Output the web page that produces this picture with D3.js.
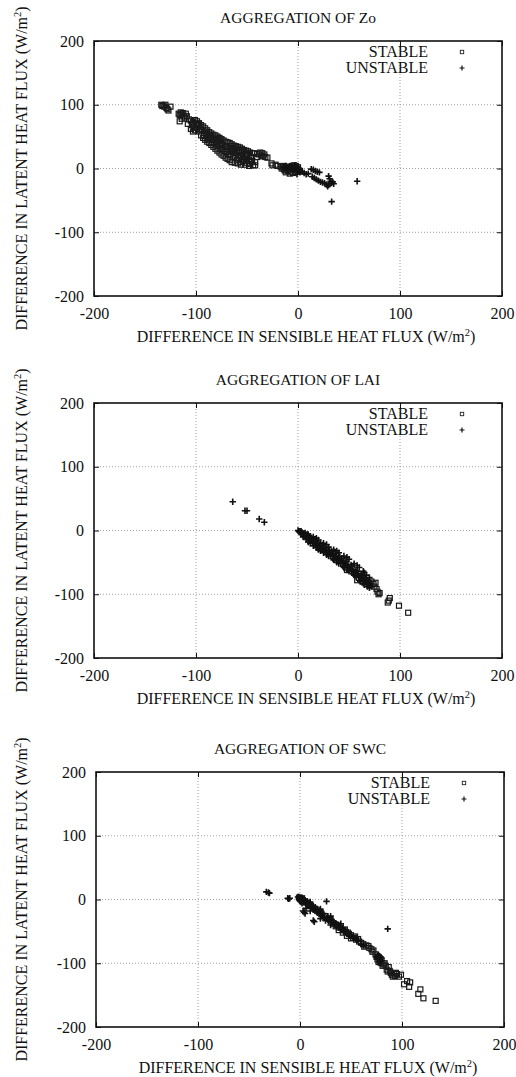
<!DOCTYPE html>
<html>
<head>
<meta charset="utf-8">
<script src="https://cdn.jsdelivr.net/npm/d3@7"></script>
<style>
body { margin: 0; background: #fff; }
text { font-family: "Liberation Serif", "Times New Roman", "DejaVu Serif", serif; fill: #111; }
</style>
</head>
<body>
<div id="chart"></div>
<script>
// values
var xTicks = [-200, -100, 0, 100, 200];
var yTicks = [-200, -100, 0, 100, 200];
var titles = ["AGGREGATION OF Zo", "AGGREGATION OF LAI", "AGGREGATION OF SWC"];
var seriesNames = ["STABLE", "UNSTABLE"];

var zoStable = [
  [-134,100],[-132,99],[-131,97],[-130,100],[-129,95],[-128,93],[-127,91],[-125,97],[-133,98],
  [-117,86],[-116,84],[-115,88],[-114,85],[-113,87],[-112,83],[-116,74],[-114,78],[-111,80],[-110,86],[-109,82],
  [-107,77],[-105,75],[-103,73],[-101,76],[-99,74],[-97,71],[-95,68],[-93,66],[-91,63],[-89,60],[-87,57],
  [-85,55],[-83,53],[-81,52],[-79,50],[-77,48],[-75,46],[-73,44],[-71,42],[-69,41],[-67,40],[-65,38],
  [-63,36],[-61,35],[-59,34],[-57,33],[-55,31],[-53,29],[-51,28],[-49,27],[-47,25],[-45,24],[-43,24],
  [-40,23],[-38,22],[-36,20],[-34,19],[-32,18],
  [-105,62],[-103,58],[-101,60],[-99,64],[-97,58],[-95,52],[-93,48],[-91,45],[-89,42],[-87,40],[-85,37],
  [-83,34],[-81,31],[-79,28],[-77,25],[-75,22],[-73,20],[-71,17],[-69,15],[-67,13],[-65,10],[-62,9],
  [-59,8],[-56,10],[-53,12],[-50,9],[-47,7],[-44,5],[-42,5],
  [-100,68],[-96,62],[-92,56],[-88,50],[-84,45],[-80,42],[-76,38],[-72,34],[-68,30],[-64,27],[-60,24],
  [-56,20],[-52,17],[-48,14],[-45,12],[-90,54],[-86,48],[-82,40],[-78,35],[-74,30],[-70,26],[-66,22],
  [-62,19],[-58,16],[-54,14],[-50,20],[-46,18],[-70,35],[-65,30],[-60,28],[-55,25],[-80,46],[-75,40],
  [-85,50],[-95,65],
  [-98,70],[-94,60],[-90,58],[-86,52],[-82,47],[-78,43],[-74,37],[-70,31],[-66,27],[-62,24],[-58,21],
  [-54,19],[-50,15],[-46,12],[-42,10],[-88,46],[-84,41],[-80,36],[-76,31],[-72,27],[-68,22],[-64,18],
  [-60,13],[-56,6],[-52,6],[-48,4],[-104,68],[-108,70],[-102,64],[-92,51],[-76,44],[-64,32],[-52,22],
  [-40,18],[-37,25],[-35,24],[-33,22],[-30,17],[-58,29],[-62,30],[-66,35],
  [-26,8],[-25,5],[-22,6],[-20,4],[-17,3],[-15,2],[-14,4],[-13,-3],[-12,1],[-11,3],[-10,-4],[-9,0],
  [-8,2],[-7,-5],[-6,-1],[-5,3],[-4,1],[-3,-2],[-2,4],[-1,0],[0,2],[1,-3],[-12,-6],[-8,-8],[-5,-7],
  [-16,0],[-3,-6],[2,-4],[-14,-1],[-10,1],[-6,4],[-2,-1],[-9,-2],[-4,5]
];
var zoUnstable = [
  [-6,2],[-4,-3],[-2,1],[-3,5],[0,-2],[2,-6],[-1,-9],[4,-5],[6,-7],[8,-9],[10,-8],[13,-1],[15,-2],
  [17,-4],[19,-5],[21,-6],[14,-13],[16,-15],[18,-17],[20,-19],[22,-21],[24,-22],[26,-23],[28,-25],
  [29,-28],[30,-26],[31,-16],[32,-20],[33,-23],[34,-21],[35,-24],[30,-12],[33,-52],[58,-20],
  [-10,-1],[-8,3],[-12,4],[-14,2]
];

var laiStable = [
  [48,-62],[55,-66],[58,-78],[60,-68],[62,-72],[64,-74],[66,-78],[68,-80],[70,-82],[72,-80],[74,-84],
  [75,-88],[76,-82],[77,-92],[78,-96],[79,-100],[80,-98],[88,-113],[89,-110],[90,-106],[99,-118],[108,-129]
];
var laiUnstable = [
  [-64,45],[-52,31],[-50,31],[-38,18],[-33,13],
  [0,0],[1,-2],[2,-1],[3,-4],[4,-3],[5,-6],[6,-5],[7,-8],[8,-7],[9,-10],[10,-12],[11,-11],[12,-14],
  [13,-16],[14,-15],[15,-18],[16,-20],[17,-19],[18,-22],[19,-24],[20,-23],[22,-26],[24,-28],[26,-30],
  [28,-32],[30,-34],[32,-36],[34,-38],[36,-40],[38,-42],[40,-45],[42,-47],[44,-50],[46,-52],[48,-55],
  [50,-58],[52,-61],[54,-64],[56,-67],[58,-70],[60,-73],[62,-76],[64,-78],[66,-81],[68,-84],[70,-86],
  [5,-10],[10,-18],[15,-24],[20,-30],[25,-35],[30,-40],[35,-46],[40,-52],[45,-58],[50,-64],[55,-70],
  [60,-78],[65,-85],[70,-90],
  [10,-6],[15,-10],[20,-15],[25,-20],[30,-26],[35,-30],[40,-35],[45,-40],[50,-45],[55,-52],[60,-58],
  [65,-66],[70,-74],
  [1,-1],[2,-3],[3,-1],[4,-6],[6,-8],[7,-4],[8,-10],[9,-6],[11,-14],[12,-9],[13,-12],[14,-20],[16,-14],
  [17,-23],[18,-17],[19,-20],[21,-25],[22,-19],[23,-30],[24,-23],[26,-26],[27,-33],[28,-27],[29,-37],
  [31,-31],[32,-40],[33,-33],[35,-38],[36,-44],[37,-36],[39,-47],[41,-41],[42,-51],[43,-44],[45,-49],
  [46,-56],[47,-48],[49,-53],[51,-61],[52,-54],[53,-57],[56,-62],[57,-73],[58,-64],[59,-67],[61,-80],
  [62,-70],[63,-73],[64,-83],[66,-74],[67,-79],[68,-88],[69,-82],[71,-84],[72,-88],[67,-70],
  [8,-14],[12,-20],[18,-27],[22,-32],[28,-38],[34,-44],[38,-50],[44,-56],[48,-62],[54,-68],[18,-12],
  [28,-22],[38,-32],[48,-42],[58,-55],[64,-64]
];

var swcStable = [
  [-1,3],[0,1],[2,2],[5,-3],[10,-9],[15,-15],[20,-20],[25,-26],[30,-32],[33,-38],[36,-40],[38,-44],
  [40,-42],[42,-48],[45,-51],[48,-54],[50,-56],[52,-60],[54,-58],[55,-63],[58,-66],[60,-68],[62,-70],
  [65,-72],[68,-76],[70,-78],[72,-80],[74,-86],[75,-90],[76,-94],[77,-98],[78,-96],[80,-100],[82,-102],
  [84,-104],[85,-110],[87,-106],[88,-112],[89,-115],[90,-118],[92,-116],[93,-120],[95,-117],[97,-121],
  [99,-118],[102,-133],[105,-128],[107,-137],[108,-130],[116,-148],[118,-141],[121,-155],[133,-159],
  [35,-42],[44,-47],[47,-52],[57,-62],[63,-74],[67,-73],[71,-82],[79,-99],[81,-104],[83,-100],[86,-113],
  [91,-121],[94,-115],[38,-48],[42,-52],[46,-57],[50,-61]
];
var swcUnstable = [
  [-33,12],[-31,11],[-30,10],[-12,2],[-11,1],[-10,2],[26,-3],[86,-46],[14,-35],[13,-33],[4,-20],
  [5,-22],[3,-18],[6,-14],
  [0,3],[1,2],[2,0],[3,-2],[4,-1],[5,-4],[6,-5],[7,-7],[8,-6],[9,-9],[10,-10],[12,-12],[14,-14],
  [16,-17],[18,-19],[20,-22],[22,-24],[24,-27],[26,-29],[28,-32],[30,-34],[32,-36],[34,-38],[36,-41],
  [38,-44],[40,-46],[43,-50],[46,-53],[50,-57],[53,-61],[56,-64],[76,-88],[77,-91],[78,-93],[79,-90],
  [80,-95],[-2,4],[-1,1],[1,-4],[2,-6],[25,-33],[28,-34],[30,-36],
  [-1,4],[0,-1],[1,0],[2,3],[3,1],[4,-4],[5,-1],[6,-8],[7,-3],[8,-10],[9,-5],[11,-8],[11,-13],[13,-10],
  [13,-16],[15,-12],[15,-18],[17,-15],[17,-21],[19,-17],[19,-23],[21,-20],[21,-26],[23,-22],[23,-29],
  [27,-27],[29,-30],[31,-32],[33,-35],[35,-37],[37,-39],[39,-42],[41,-48],[42,-45],[45,-49],[48,-56],
  [52,-59],[55,-60],[75,-90],[77,-87],[78,-89],[79,-96],[80,-92],[76,-92],[78,-98],
  [10,-4],[20,-15],[30,-26],[40,-38],[10,-18],[20,-30],[30,-40],[60,-70],[62,-72]
];

var panels = [
  {title: titles[0], stable: zoStable, unstable: zoUnstable, top: 41, left: 94},
  {title: titles[1], stable: laiStable, unstable: laiUnstable, top: 403, left: 94},
  {title: titles[2], stable: swcStable, unstable: swcUnstable, top: 772, left: 96}
];

var width = 516, height = 1077;
var pw = 408, ph = 255;
var serif = "'Liberation Serif', 'Times New Roman', 'DejaVu Serif', serif";

var svg = d3.select("#chart")
  .append("svg")
  .attr("width", width)
  .attr("height", height);

var plusPath = "M-3.2,0H3.2M0,-3.2V3.2";

panels.forEach(function (p) {
  var x = d3.scaleLinear().domain([-200, 200]).range([0, pw]);
  var y = d3.scaleLinear().domain([-200, 200]).range([ph, 0]);

  var g = svg.append("g").attr("transform", "translate(" + p.left + "," + p.top + ")");

  // grid
  g.append("g").selectAll("line")
    .data(xTicks.slice(1, -1))
    .enter().append("line")
    .attr("x1", function (d) { return x(d); })
    .attr("x2", function (d) { return x(d); })
    .attr("y1", 0).attr("y2", ph)
    .attr("stroke", "#888").attr("stroke-width", 0.8)
    .attr("stroke-dasharray", "1,2");
  g.append("g").selectAll("line")
    .data(yTicks.slice(1, -1))
    .enter().append("line")
    .attr("y1", function (d) { return y(d); })
    .attr("y2", function (d) { return y(d); })
    .attr("x1", 0).attr("x2", pw)
    .attr("stroke", "#888").attr("stroke-width", 0.8)
    .attr("stroke-dasharray", "1,2");

  // axes (ticks pointing inward)
  var fmt = function (d) { return String(d); };
  g.append("g").attr("transform", "translate(0," + ph + ")")
    .call(d3.axisBottom(x).tickValues(xTicks).tickSize(-5).tickPadding(12).tickFormat(fmt));
  g.append("g")
    .call(d3.axisLeft(y).tickValues(yTicks).tickSize(-5).tickPadding(10).tickFormat(fmt));
  g.append("g").attr("transform", "translate(" + pw + ",0)")
    .call(d3.axisRight(y).tickValues(yTicks).tickSize(-5).tickFormat(""));
  g.append("g")
    .call(d3.axisTop(x).tickValues(xTicks).tickSize(-5).tickFormat(""));
  g.selectAll(".domain").remove();
  g.selectAll("g").attr("font-family", serif).attr("font-size", 16);
  g.selectAll(".tick line").attr("stroke", "#111");
  g.selectAll(".tick text").attr("fill", "#111");

  g.append("rect")
    .attr("width", pw).attr("height", ph)
    .attr("fill", "none").attr("stroke", "#111").attr("stroke-width", 1.6);

  // points
  g.append("g").selectAll("rect")
    .data(p.stable)
    .enter().append("rect")
    .attr("x", function (d) { return x(d[0]) - 2.5; })
    .attr("y", function (d) { return y(d[1]) - 2.5; })
    .attr("width", 5).attr("height", 5)
    .attr("fill", "none").attr("stroke", "#1a1a1a").attr("stroke-width", 1.2);

  g.append("g").selectAll("path")
    .data(p.unstable)
    .enter().append("path")
    .attr("transform", function (d) { return "translate(" + x(d[0]) + "," + y(d[1]) + ")"; })
    .attr("d", plusPath)
    .attr("stroke", "#111").attr("stroke-width", 1.6);

  // legend
  var lg = g.append("g");
  lg.selectAll("text")
    .data(seriesNames)
    .enter().append("text")
    .attr("x", pw - 74)
    .attr("y", function (d, i) { return 16 + i * 16; })
    .attr("text-anchor", "end")
    .attr("font-family", serif)
    .attr("font-size", 16)
    .text(function (d) { return d; });
  lg.append("rect")
    .attr("x", pw - 41.7).attr("y", 9.3)
    .attr("width", 3.4).attr("height", 3.4)
    .attr("fill", "none").attr("stroke", "#222").attr("stroke-width", 0.9);
  lg.append("path")
    .attr("transform", "translate(" + (pw - 40) + "," + 27 + ")")
    .attr("d", "M-2.5,0H2.5M0,-2.5V2.5")
    .attr("stroke", "#111").attr("stroke-width", 1.2);

  // title
  g.append("text")
    .attr("x", pw / 2).attr("y", -18)
    .attr("text-anchor", "middle")
    .attr("font-family", serif)
    .attr("font-size", 15.5)
    .text(p.title);

  // x label
  var xl = g.append("text")
    .attr("x", pw / 2 + 8).attr("y", ph + 46)
    .attr("text-anchor", "middle")
    .attr("font-family", serif)
    .attr("font-size", 16);
  xl.append("tspan").text("DIFFERENCE IN SENSIBLE HEAT FLUX (W/m");
  xl.append("tspan").attr("dy", -6).attr("font-size", 10.5).text("2");
  xl.append("tspan").attr("dy", 6).text(")");

  // y label
  var yl = g.append("text")
    .attr("transform", "translate(" + (27 - p.left) + "," + (ph / 2) + ") rotate(-90)")
    .attr("text-anchor", "middle")
    .attr("font-family", serif)
    .attr("font-size", 16);
  yl.append("tspan").text("DIFFERENCE IN LATENT HEAT FLUX (W/m");
  yl.append("tspan").attr("dy", -6).attr("font-size", 10.5).text("2");
  yl.append("tspan").attr("dy", 6).text(")");
});
</script>
</body>
</html>
